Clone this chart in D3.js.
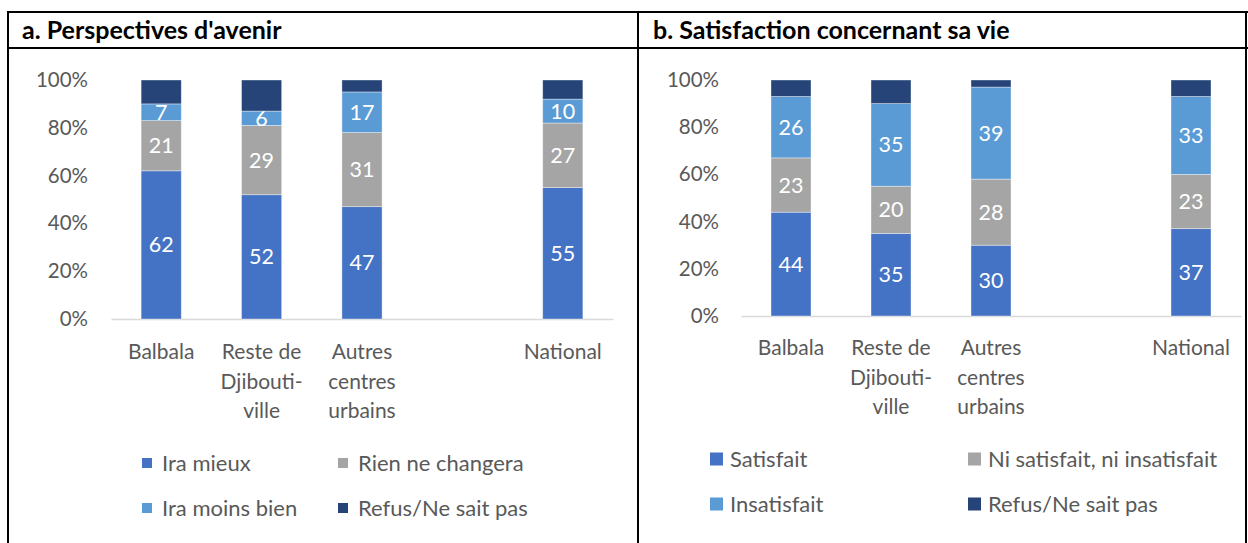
<!DOCTYPE html>
<html><head><meta charset="utf-8">
<script src="https://cdn.jsdelivr.net/npm/d3@7"></script>
<style>body{margin:0;background:#fff} svg{display:block}</style>
</head><body><svg id="c" width="1248" height="543"></svg>
<script>
// ---------- data ----------
const categories = ["Balbala", "Reste de Djibouti-ville", "Autres centres urbains", "National"];
const categoryLines = [["Balbala"], ["Reste de", "Djibouti-", "ville"], ["Autres", "centres", "urbains"], ["National"]];
const yTicks = [0, 20, 40, 60, 80, 100];

const titleA = "a. Perspectives d'avenir";
const seriesA = ["Ira mieux", "Rien ne changera", "Ira moins bien", "Refus/Ne sait pas"];
const iraMieux = [62, 52, 47, 55];
const rienNeChangera = [21, 29, 31, 27];
const iraMoinsBien = [7, 6, 17, 10];
const refusA = [10, 13, 5, 8];

const titleB = "b. Satisfaction concernant sa vie";
const seriesB = ["Satisfait", "Ni satisfait, ni insatisfait", "Insatisfait", "Refus/Ne sait pas"];
const satisfait = [44, 35, 30, 37];
const niSatisfait = [23, 20, 28, 23];
const insatisfait = [26, 35, 39, 33];
const refusB = [7, 10, 3, 7];

const colors = ["#4472C4", "#A5A5A5", "#5B9BD5", "#264478"];
const FONT = "Lato, 'Open Sans', sans-serif";

const svg = d3.select("#c");

// ---------- frame ----------
const frame = svg.append("g").attr("stroke", "#000").attr("stroke-width", 2);
frame.append("line").attr("x1", 7).attr("x2", 1248).attr("y1", 12).attr("y2", 12);
frame.append("line").attr("x1", 7).attr("x2", 1248).attr("y1", 48).attr("y2", 48);
frame.append("line").attr("x1", 8).attr("x2", 8).attr("y1", 11).attr("y2", 543);
frame.append("line").attr("x1", 638).attr("x2", 638).attr("y1", 11).attr("y2", 543);
frame.append("line").attr("x1", 1246).attr("x2", 1246).attr("y1", 11).attr("y2", 543);

function panel(cfg) {
  const g = svg.append("g");
  g.append("text").attr("x", cfg.titleX).attr("y", 39)
    .attr("font-family", FONT).attr("font-weight", "bold").attr("font-size", 25)
    .attr("fill", "#000").text(cfg.title);

  const domain = [categories[0], categories[1], categories[2], "_gap", categories[3]];
  const x = d3.scaleBand().domain(domain).range(cfg.xRange).padding(0);
  const y = d3.scaleLinear().domain([0, 100]).range(cfg.yRange);
  const bw = x.bandwidth() * 0.4;

  // y axis
  const yAxis = d3.axisLeft(y).tickValues(yTicks).tickFormat(d => d + "%").tickSize(0).tickPadding(0);
  const ya = g.append("g").attr("transform", `translate(${cfg.yLabelX},0)`).call(yAxis);
  ya.select(".domain").remove();
  ya.selectAll("text").attr("font-family", FONT).attr("font-size", 20.5).attr("fill", "#595959");

  // x axis line
  const xAxis = d3.axisBottom(x).tickSize(0).tickFormat("");
  const xa = g.append("g").attr("transform", `translate(0,${cfg.yRange[0]})`).call(xAxis);
  xa.select(".domain").attr("stroke", "#D9D9D9").attr("stroke-width", 1.5);

  // stacked data
  const rows = categories.map((c, i) => {
    const o = { cat: c };
    cfg.series.forEach((s, k) => o[s] = cfg.values[k][i]);
    return o;
  });
  const stacked = d3.stack().keys(cfg.series)(rows);

  stacked.forEach((layer, k) => {
    const lg = g.append("g");
    lg.selectAll("rect").data(layer).join("rect")
      .attr("x", d => x(d.data.cat) + (x.bandwidth() - bw) / 2)
      .attr("width", bw)
      .attr("y", d => y(d[1]))
      .attr("height", d => y(d[0]) - y(d[1]))
      .attr("fill", colors[k])
      .attr("stroke", "#fff").attr("stroke-opacity", 0.5).attr("stroke-width", 0.75);
    if (k < 3) {
      lg.selectAll("text").data(layer).join("text")
        .attr("x", d => x(d.data.cat) + x.bandwidth() / 2)
        .attr("y", d => y((d[0] + d[1]) / 2))
        .attr("dy", "0.35em")
        .attr("text-anchor", "middle")
        .attr("font-family", FONT).attr("font-size", 21.5).attr("fill", "#fff")
        .text(d => d[1] - d[0]);
    }
  });

  // category labels
  categories.forEach((c, i) => {
    const t = g.append("text").attr("text-anchor", "middle")
      .attr("font-family", FONT).attr("font-size", 21).attr("fill", "#595959");
    categoryLines[i].forEach((ln, j) => {
      t.append("tspan").attr("x", x(c) + x.bandwidth() / 2)
        .attr("y", cfg.catY + j * 29.5).attr("dy", "0.35em").text(ln);
    });
  });

  // legend
  cfg.series.forEach((s, k) => {
    const col = k % 2, row = Math.floor(k / 2);
    const lx = cfg.legX[col], ly = cfg.legY[row];
    g.append("rect").attr("x", lx).attr("y", ly - cfg.sw / 2).attr("width", cfg.sw).attr("height", cfg.sw).attr("fill", colors[k]);
    g.append("text").attr("x", lx + cfg.sw + cfg.gap).attr("y", ly).attr("dy", "0.35em")
      .attr("font-family", FONT).attr("font-size", cfg.legFont).attr("fill", "#595959").text(s);
  });
}

panel({
  title: titleA, titleX: 22, series: seriesA,
  values: [iraMieux, rienNeChangera, iraMoinsBien, refusA],
  xRange: [111, 613], yRange: [319, 80], yLabelX: 88, catY: 352,
  legX: [142, 338], legY: [463, 508], sw: 10, gap: 10, legFont: 22
});
panel({
  title: titleB, titleX: 653, series: seriesB,
  values: [satisfait, niSatisfait, insatisfait, refusB],
  xRange: [741, 1241], yRange: [316, 80], yLabelX: 719, catY: 348,
  legX: [710, 968], legY: [459, 504], sw: 13, gap: 7, legFont: 22
});
</script>
</body></html>
